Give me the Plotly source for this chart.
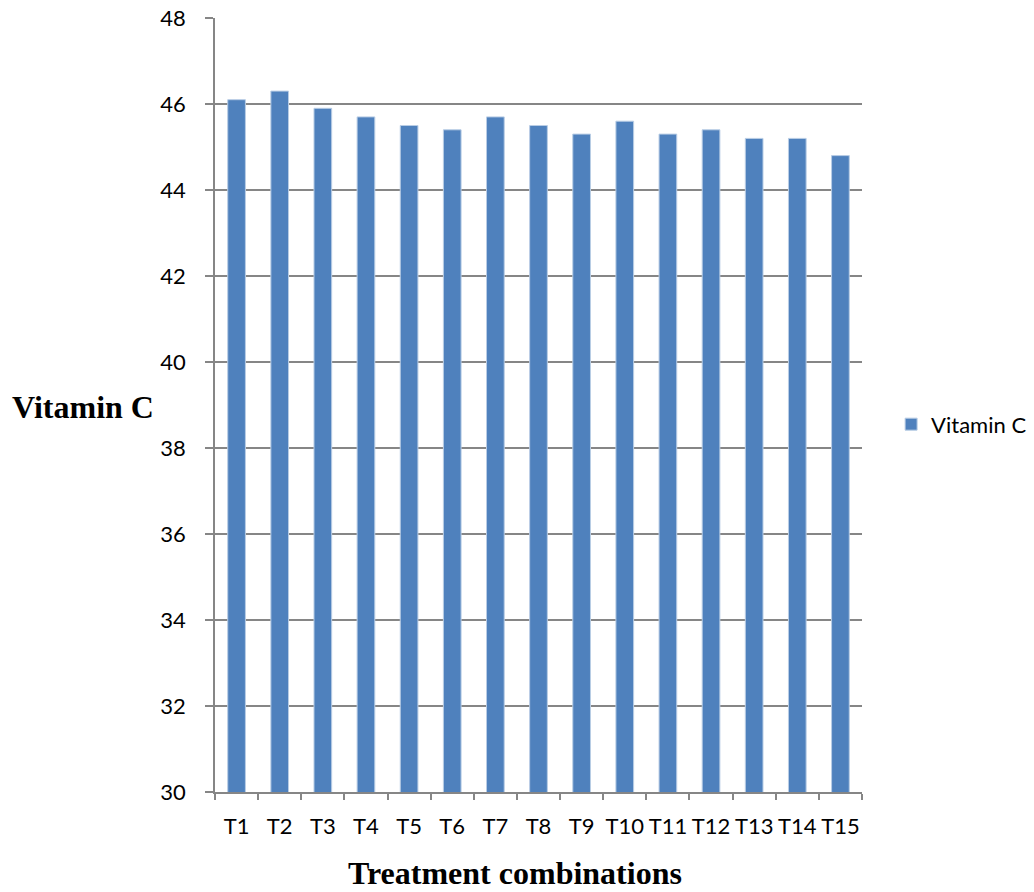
import plotly.graph_objects as go

treatments = ["T1", "T2", "T3", "T4", "T5", "T6", "T7", "T8",
              "T9", "T10", "T11", "T12", "T13", "T14", "T15"]
vitamin_c = [46.1, 46.3, 45.9, 45.7, 45.5, 45.4, 45.7, 45.5,
             45.3, 45.6, 45.3, 45.4, 45.2, 45.2, 44.8]

y_ticks = [30, 32, 34, 36, 38, 40, 42, 44, 46, 48]

axis_grey = "#868686"
tick_font = dict(family="Lato, Open Sans, sans-serif", size=22, color="#000000")
title_font = dict(family="Liberation Serif, Times New Roman, serif", size=32, color="#000000")

fig = go.Figure()
fig.add_trace(go.Bar(
    x=treatments,
    y=vitamin_c,
    name="Vitamin C",
    marker=dict(color="#4F81BD", line=dict(color="#B9CDE5", width=1)),
    width=0.41,
    showlegend=True,
))

fig.update_layout(
    width=1034,
    height=892,
    margin=dict(l=215, r=172, t=18, b=100, autoexpand=False),
    paper_bgcolor="white",
    plot_bgcolor="white",
    bargap=0.59,
    showlegend=True,
    legend=dict(
        x=1.045, y=0.475, xanchor="left", yanchor="middle",
        font=tick_font, bgcolor="rgba(0,0,0,0)",
        itemwidth=30,
    ),
    annotations=[
        dict(text="<b>Vitamin C</b>", xref="paper", yref="paper",
             x=-0.317, y=0.497, xanchor="left", yanchor="middle",
             showarrow=False, font=title_font),
        dict(text="<b>Treatment combinations</b>", xref="paper", yref="paper",
             x=0.4637, y=-0.105, xanchor="center", yanchor="middle",
             showarrow=False, font=title_font),
    ],
)

fig.update_xaxes(
    type="category",
    showline=True, linecolor=axis_grey, linewidth=1.5,
    ticks="outside", tickson="boundaries", ticklen=6,
    tickcolor=axis_grey, tickwidth=1.5,
    tickfont=tick_font, showgrid=False,
    tickangle=0,
    ticklabelstandoff=14,
)

fig.update_yaxes(
    range=[30, 48],
    tickvals=y_ticks,
    showline=True, linecolor=axis_grey, linewidth=1.5,
    ticks="outside", ticklen=8, tickcolor=axis_grey, tickwidth=1.5,
    tickfont=tick_font,
    showgrid=True, gridcolor=axis_grey, gridwidth=1.5,
    zeroline=False,
    ticklabelstandoff=15,
)

fig.write_html("out.html")
